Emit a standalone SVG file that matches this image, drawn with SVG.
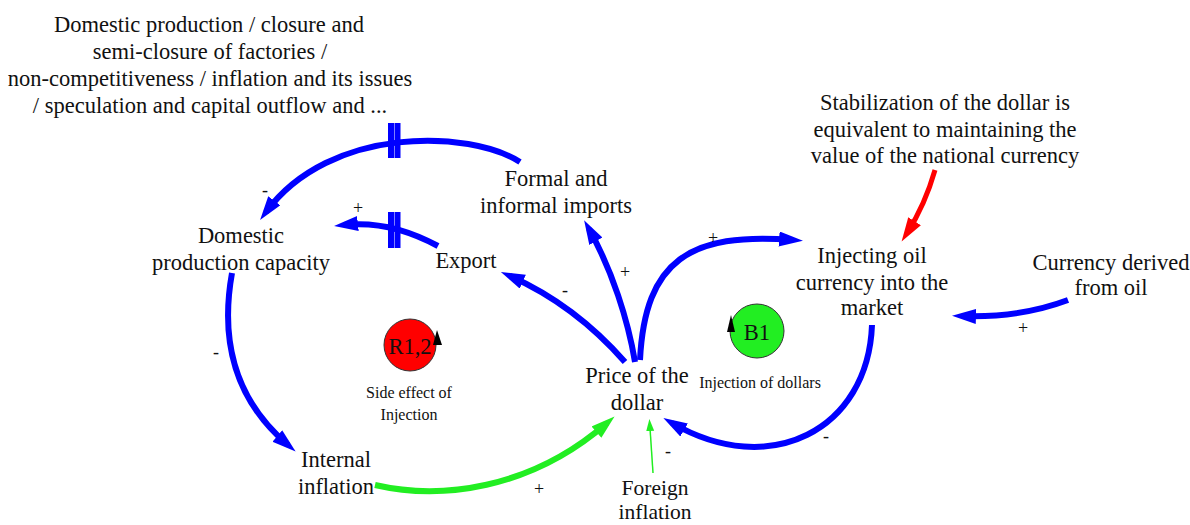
<svg xmlns="http://www.w3.org/2000/svg" width="1190" height="525" viewBox="0 0 1190 525">
<style>
text{fill:#111;text-anchor:middle;dominant-baseline:central}
.n{font-size:22.5px}
.f{font-size:21.5px}
.s{font-size:16px}
.p{font-size:18px}
.b{fill:none;stroke:#0000ff;stroke-width:6}
.r{fill:none;stroke:#ff0000;stroke-width:5}
.g{fill:none;stroke:#22ee22;stroke-width:6}
.gt{fill:none;stroke:#22ee22;stroke-width:1.5}
</style>
<defs>
<marker id="ab" markerUnits="userSpaceOnUse" markerWidth="26" markerHeight="17" refX="14" refY="7.5" orient="auto"><path d="M0,0 L24,7.5 L0,15 z" fill="#0000ff"/></marker>
<marker id="ar" markerUnits="userSpaceOnUse" markerWidth="26" markerHeight="17" refX="14" refY="7.5" orient="auto"><path d="M0,0 L24,7.5 L0,15 z" fill="#ff0000"/></marker>
<marker id="ag" markerUnits="userSpaceOnUse" markerWidth="26" markerHeight="17" refX="14" refY="7.5" orient="auto"><path d="M0,0 L24,7.5 L0,15 z" fill="#22ee22"/></marker>
<marker id="agt" markerUnits="userSpaceOnUse" markerWidth="14" markerHeight="10" refX="3" refY="4" orient="auto"><path d="M0,0 L12,4 L0,8 z" fill="#22ee22"/></marker>
</defs>
<g font-family="'Liberation Serif', 'DejaVu Serif', serif">
<g id="connectors">
<path class="b" d="M520,162 C470,130 330,125 266,212" marker-end="url(#ab)"/>
<path d="M391,123 V158 M397.5,123 V158" stroke="#0000ff" stroke-width="6"/>
<path class="b" d="M438,246 Q390,220 344,225" marker-end="url(#ab)"/>
<path d="M391,212 V248 M397.5,212 V248" stroke="#0000ff" stroke-width="6"/>
<path class="b" d="M625,362 Q575,305 510,276" marker-end="url(#ab)"/>
<path class="b" d="M635,362 C628,320 612,270 589,229" marker-end="url(#ab)"/>
<path class="b" d="M640,360 C645,260 690,232 793,240" marker-end="url(#ab)"/>
<path class="b" d="M872,325 C868,430 770,480 672,423" marker-end="url(#ab)"/>
<path class="r" d="M935,170 Q925,205 907,233" marker-end="url(#ar)"/>
<path class="b" d="M1068,300 Q1020,318 962,316" marker-end="url(#ab)"/>
<path class="b" d="M232,273 C220,340 235,400 288,445" marker-end="url(#ab)"/>
<path class="g" d="M375,485 C440,500 530,490 607,423" marker-end="url(#ag)"/>
<path class="gt" d="M653,473 L650,428" marker-end="url(#agt)"/>
<text class="p" x="265" y="190">-</text>
<text class="p" x="358" y="208">+</text>
<text class="p" x="565" y="290">-</text>
<text class="p" x="625" y="272">+</text>
<text class="p" x="713" y="238">+</text>
<text class="p" x="826" y="436">-</text>
<text class="p" x="1023" y="328">+</text>
<text class="p" x="216" y="352">-</text>
<text class="p" x="539" y="489">+</text>
<text class="p" x="668" y="451">-</text>
</g>
<g id="note-top">
<text class="n" x="209" y="24">Domestic production / closure and</text>
<text class="n" x="210" y="51">semi-closure of factories /</text>
<text class="n" x="210" y="78">non-competitiveness / inflation and its issues</text>
<text class="n" x="210" y="105">/ speculation and capital outflow and ...</text>
</g>
<g id="imports">
<text class="n" x="556" y="178">Formal and</text>
<text class="n" x="556" y="205">informal imports</text>
</g>
<g id="domestic">
<text class="n" x="241" y="235">Domestic</text>
<text class="n" x="241" y="262">production capacity</text>
</g>
<g id="export"><text class="n" x="466" y="260">Export</text></g>
<g id="r12">
<circle cx="410" cy="345" r="26" fill="#ff0000" stroke="#333" stroke-width="1"/>
<text class="n" x="410" y="346">R1,2</text>
<path d="M437,330 L433,345 L442,345 z" fill="#000"/>
<text class="s" x="409" y="392">Side effect of</text>
<text class="s" x="409" y="414">Injection</text>
</g>
<g id="price">
<text class="n" x="637" y="375">Price of the</text>
<text class="n" x="637" y="402">dollar</text>
</g>
<g id="b1">
<circle cx="757" cy="331" r="27" fill="#22ee22" stroke="#333" stroke-width="1"/>
<text class="n" x="757" y="332">B1</text>
<path d="M731,315 L727,332 L735,332 z" fill="#000"/>
<text class="s" x="760" y="382">Injection of dollars</text>
</g>
<g id="injecting">
<text class="n" x="872" y="255">Injecting oil</text>
<text class="n" x="872" y="282">currency into the</text>
<text class="n" x="872" y="307">market</text>
</g>
<g id="stabilization">
<text class="n" x="945" y="102">Stabilization of the dollar is</text>
<text class="n" x="945" y="129">equivalent to maintaining the</text>
<text class="n" x="945" y="155">value of the national currency</text>
</g>
<g id="currency">
<text class="n" x="1111" y="262">Currency derived</text>
<text class="n" x="1111" y="287">from oil</text>
</g>
<g id="internal">
<text class="n" x="336" y="459">Internal</text>
<text class="n" x="336" y="486">inflation</text>
</g>
<g id="foreign">
<text class="f" x="655" y="488">Foreign</text>
<text class="f" x="655" y="512">inflation</text>
</g>
</g>
</svg>
